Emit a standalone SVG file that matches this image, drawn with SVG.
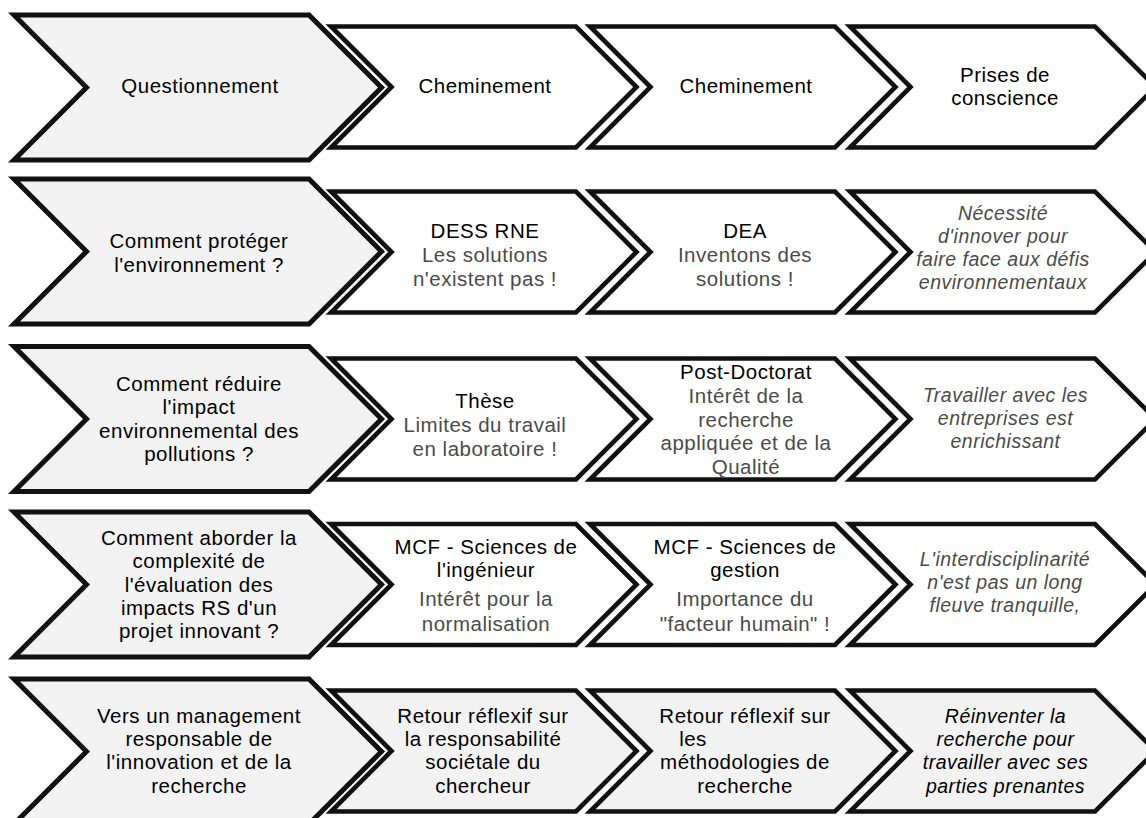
<svg xmlns="http://www.w3.org/2000/svg" width="1146" height="818" viewBox="0 0 1146 818">
<style>
.c1{fill:#f2f2f2;stroke:#111;stroke-width:5;stroke-linejoin:miter;stroke-miterlimit:10}
.cw{fill:#fff;stroke:#111;stroke-width:4.6;stroke-linejoin:miter;stroke-miterlimit:10}
.cg{fill:#f2f2f2;stroke:#111;stroke-width:4.6;stroke-linejoin:miter;stroke-miterlimit:10}
text{font-family:"Liberation Sans",Arial,sans-serif;font-size:20.5px;letter-spacing:0.5px;text-anchor:middle;fill:#000}
.g{fill:#4a4a4a}
.i{font-style:italic;fill:#4a4a4a;font-size:19.5px}
.ib{font-style:italic;fill:#000;font-size:19.5px}
</style>
<defs>
<polygon id="big" points="14,-72.5 309,-72.5 381.5,0 309,72.5 14,72.5 86.5,0"/>
<polygon id="sm" points="0,-60.5 245,-60.5 305.5,0 245,60.5 0,60.5 60.5,0"/>
</defs>

<!-- Row 1 -->
<g id="r1c1"><use href="#big" class="c1" transform="translate(0,87.5)"/><text x="200" y="93">Questionnement</text></g>
<g id="r1c2"><use href="#sm" class="cw" transform="translate(331,87)"/><text x="485" y="93">Cheminement</text></g>
<g id="r1c3"><use href="#sm" class="cw" transform="translate(590,87)"/><text x="746" y="93">Cheminement</text></g>
<g id="r1c4"><use href="#sm" class="cw" transform="translate(850,87)"/><text><tspan x="1005" y="82">Prises de</tspan><tspan x="1005" y="105.3">conscience</tspan></text></g>

<!-- Row 2 -->
<g id="r2c1"><use href="#big" class="c1" transform="translate(0,251.5)"/><text><tspan x="199" y="248">Comment protéger</tspan><tspan x="199" y="271.5">l'environnement ?</tspan></text></g>
<g id="r2c2"><use href="#sm" class="cw" transform="translate(331,252)"/><text x="485" y="238">DESS RNE</text><text class="g"><tspan x="485" y="262">Les solutions</tspan><tspan x="485" y="286">n'existent pas !</tspan></text></g>
<g id="r2c3"><use href="#sm" class="cw" transform="translate(590,252)"/><text x="745" y="238">DEA</text><text class="g"><tspan x="745" y="262">Inventons des</tspan><tspan x="745" y="286">solutions !</tspan></text></g>
<g id="r2c4"><use href="#sm" class="cw" transform="translate(850,252)"/><text class="i"><tspan x="1003" y="220">Nécessité</tspan><tspan x="1003" y="243">d'innover pour</tspan><tspan x="1003" y="266">faire face aux défis</tspan><tspan x="1003" y="289">environnementaux</tspan></text></g>

<!-- Row 3 -->
<g id="r3c1"><use href="#big" class="c1" transform="translate(0,419)"/><text><tspan x="199" y="391">Comment réduire</tspan><tspan x="199" y="414.3">l'impact</tspan><tspan x="199" y="437.6">environnemental des</tspan><tspan x="199" y="461">pollutions ?</tspan></text></g>
<g id="r3c2"><use href="#sm" class="cw" transform="translate(331,419)"/><text x="485" y="408">Thèse</text><text class="g"><tspan x="485" y="432">Limites du travail</tspan><tspan x="485" y="455.5">en laboratoire !</tspan></text></g>
<g id="r3c3"><use href="#sm" class="cw" transform="translate(590,419)"/><text x="746" y="379">Post-Doctorat</text><text class="g"><tspan x="746" y="403">Intérêt de la</tspan><tspan x="746" y="426.5">recherche</tspan><tspan x="746" y="450">appliquée et de la</tspan><tspan x="746" y="473.5">Qualité</tspan></text></g>
<g id="r3c4"><use href="#sm" class="cw" transform="translate(850,419)"/><text class="i"><tspan x="1005.5" y="401.5">Travailler avec les</tspan><tspan x="1005.5" y="425">entreprises est</tspan><tspan x="1005.5" y="448.3">enrichissant</tspan></text></g>

<!-- Row 4 -->
<g id="r4c1"><use href="#big" class="c1" transform="translate(0,584.5)"/><text><tspan x="199" y="545">Comment aborder la</tspan><tspan x="199" y="568.3">complexité de</tspan><tspan x="199" y="591.6">l'évaluation des</tspan><tspan x="199" y="614.9">impacts RS d'un</tspan><tspan x="199" y="638.2">projet innovant ?</tspan></text></g>
<g id="r4c2"><use href="#sm" class="cw" transform="translate(331,584.5)"/><text><tspan x="486" y="554">MCF - Sciences de</tspan><tspan x="486" y="577.3">l'ingénieur</tspan></text><text class="g"><tspan x="486" y="606">Intérêt pour la</tspan><tspan x="486" y="631">normalisation</tspan></text></g>
<g id="r4c3"><use href="#sm" class="cw" transform="translate(590,584.5)"/><text><tspan x="745" y="554">MCF - Sciences de</tspan><tspan x="745" y="577.3">gestion</tspan></text><text class="g"><tspan x="745" y="606">Importance du</tspan><tspan x="745" y="631">"facteur humain" !</tspan></text></g>
<g id="r4c4"><use href="#sm" class="cw" transform="translate(850,584.5)"/><text class="i"><tspan x="1005" y="566">L'interdisciplinarité</tspan><tspan x="1005" y="589">n'est pas un long</tspan><tspan x="1005" y="612">fleuve tranquille,</tspan></text></g>

<!-- Row 5 -->
<g id="r5c1"><use href="#big" class="c1" transform="translate(0,751.5)"/><text><tspan x="199" y="722.7">Vers un management</tspan><tspan x="199" y="746">responsable de</tspan><tspan x="199" y="769.3">l'innovation et de la</tspan><tspan x="199" y="792.7">recherche</tspan></text></g>
<g id="r5c2"><use href="#sm" class="cg" transform="translate(331,751)"/><text><tspan x="483" y="722.7">Retour réflexif sur</tspan><tspan x="483" y="746">la responsabilité</tspan><tspan x="483" y="769.3">sociétale du</tspan><tspan x="483" y="792.7">chercheur</tspan></text></g>
<g id="r5c3"><use href="#sm" class="cg" transform="translate(590,751)"/><text><tspan x="745" y="722.7">Retour réflexif sur</tspan><tspan x="693" y="746">les</tspan><tspan x="745" y="769.3">méthodologies de</tspan><tspan x="745" y="792.7">recherche</tspan></text></g>
<g id="r5c4"><use href="#sm" class="cg" transform="translate(850,751)"/><text class="ib"><tspan x="1005.5" y="722.7">Réinventer la</tspan><tspan x="1005.5" y="746">recherche pour</tspan><tspan x="1005.5" y="769.3">travailler avec ses</tspan><tspan x="1005.5" y="792.7">parties prenantes</tspan></text></g>
</svg>
